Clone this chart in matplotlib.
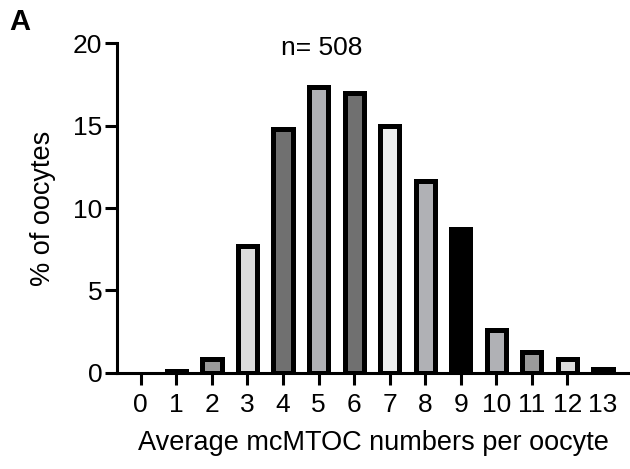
#!/usr/bin/env python3
"""Distribution of average mcMTOC numbers per oocyte."""

import matplotlib

matplotlib.use("Agg")
import matplotlib.pyplot as plt
import numpy as np

plt.rcParams["font.family"] = ["Liberation Sans", "DejaVu Sans"]

mtoc_numbers = list(range(14))
percent_oocytes = [0.0, 0.1, 0.84, 7.7, 14.8, 17.35, 16.95, 15.0, 11.65, 8.7, 2.6, 1.25, 0.85, 0.27]
bar_colors = ["#9a9a9a", "#000000", "#9a9a9a", "#dcdcdc", "#707070", "#b0b1b5", "#707070",
              "#ebecec", "#b0b1b5", "#000000", "#b0b1b5", "#9a9a9a", "#dcdcdc", "#000000"]
tick_labels = [str(n) for n in mtoc_numbers]
n_total = 508

fig = plt.figure(figsize=(6.30, 4.69), dpi=100)
ax = fig.add_axes([0.1857, 0.2047, 0.8143, 0.7036])

x = np.array(mtoc_numbers)
bars = ax.bar(x, percent_oocytes, width=0.54, color=bar_colors, edgecolor="black", linewidth=3.6, zorder=3)
bars[0].set_visible(False)

ax.set_xlim(-0.67, 13.76)
ax.set_ylim(0, 20)
ax.set_yticks([0, 5, 10, 15, 20])
ax.set_xticks(x)
ax.set_xticklabels(tick_labels)
ax.tick_params(axis="both", labelsize=19, width=2.2, length=8.6, direction="out", pad=2)
ax.tick_params(axis="x", pad=6)
for tick in ax.xaxis.get_major_ticks()[-1:]:
    tick.tick1line.set_visible(False)

for side in ("top", "right"):
    ax.spines[side].set_visible(False)
for side in ("left", "bottom"):
    ax.spines[side].set_linewidth(2.2)
ax.spines["left"].set_zorder(4)
ax.spines["bottom"].set_zorder(4)

ax.set_ylabel("% of oocytes", fontsize=19.5, labelpad=12)
ax.set_xlabel("Average mcMTOC numbers per oocyte", fontsize=19.5, labelpad=9)
ax.text(5.1, 19.7, f"n= {n_total}", fontsize=19, ha="center", va="center")
fig.text(0.015, 0.953, "A", fontsize=21, fontweight="bold", va="center", ha="left")

fig.savefig("out.png", dpi=100)
plt.close(fig)
